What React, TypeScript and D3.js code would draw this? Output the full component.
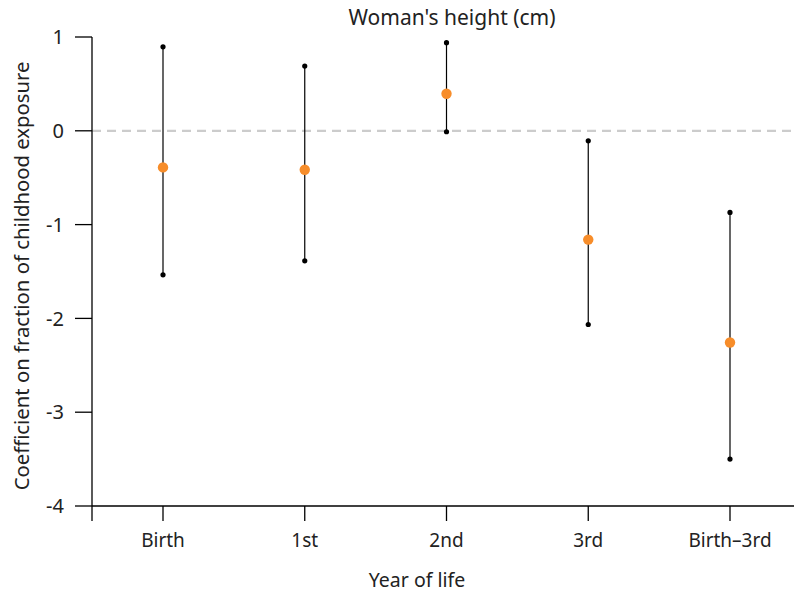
import React from "react";
import * as d3 from "d3";

const categories = ["Birth", "1st", "2nd", "3rd", "Birth–3rd"];
const estimates = [-0.39, -0.415, 0.395, -1.16, -2.257];
const upper = [0.895, 0.69, 0.94, -0.107, -0.87];
const lower = [-1.535, -1.386, -0.01, -2.065, -3.5];
const yTicks = [1, 0, -1, -2, -3, -4];

const W = 794;
const H = 593;
const FONT = "'Noto Sans', 'Open Sans', sans-serif";
const TXT = "#222";

export default function App() {
  const x = d3.scalePoint<string>().domain(categories).range([163, 730]);
  const y = d3.scaleLinear().domain([-4, 1]).range([506, 37]);
  const axisX = 92;
  const axisY = y(-4);

  return (
    <div style={{ position: "absolute", left: 0, top: 0 }}>
      <svg width={W} height={H} style={{ display: "block", background: "#fff" }}>
        <text x={452} y={25} textAnchor="middle" fontFamily={FONT} fontSize={21} fill={TXT}>
          Woman's height (cm)
        </text>
        {/* zero line */}
        <line x1={axisX} x2={W} y1={y(0)} y2={y(0)} stroke="#cccccc" strokeWidth={2.2} strokeDasharray="9,6" />
        {/* y axis */}
        <line x1={axisX} x2={axisX} y1={y(1)} y2={axisY + 15} stroke="#000" strokeWidth={1.3} />
        {yTicks.map((t) => (
          <g key={t}>
            <line x1={axisX - 17} x2={axisX} y1={y(t)} y2={y(t)} stroke="#000" strokeWidth={1.3} />
            <text x={64} y={y(t)} dy="0.36em" textAnchor="end" fontFamily={FONT} fontSize={20} fill={TXT}>
              {t}
            </text>
          </g>
        ))}
        {/* x axis */}
        <line x1={axisX} x2={W} y1={axisY} y2={axisY} stroke="#000" strokeWidth={1.3} />
        {categories.map((c) => (
          <g key={c}>
            <line x1={x(c)!} x2={x(c)!} y1={axisY} y2={axisY + 15} stroke="#000" strokeWidth={1.3} />
            <text x={x(c)!} y={547} textAnchor="middle" fontFamily={FONT} fontSize={19} fill={TXT}>
              {c}
            </text>
          </g>
        ))}
        <text x={417} y={587} textAnchor="middle" fontFamily={FONT} fontSize={19.5} fill={TXT}>
          Year of life
        </text>
        <text
          transform={`translate(29, ${(62 + 490) / 2}) rotate(-90)`}
          textAnchor="middle"
          fontFamily={FONT}
          fontSize={20.3}
          fill={TXT}
        >
          Coefficient on fraction of childhood exposure
        </text>
        {/* error bars */}
        {categories.map((c, i) => (
          <g key={c}>
            <line x1={x(c)!} x2={x(c)!} y1={y(upper[i])} y2={y(lower[i])} stroke="#000" strokeWidth={1.2} />
            <circle cx={x(c)!} cy={y(upper[i])} r={2.6} fill="#000" />
            <circle cx={x(c)!} cy={y(lower[i])} r={2.6} fill="#000" />
            <circle cx={x(c)!} cy={y(estimates[i])} r={5.2} fill="#f78d2a" />
          </g>
        ))}
      </svg>
    </div>
  );
}
